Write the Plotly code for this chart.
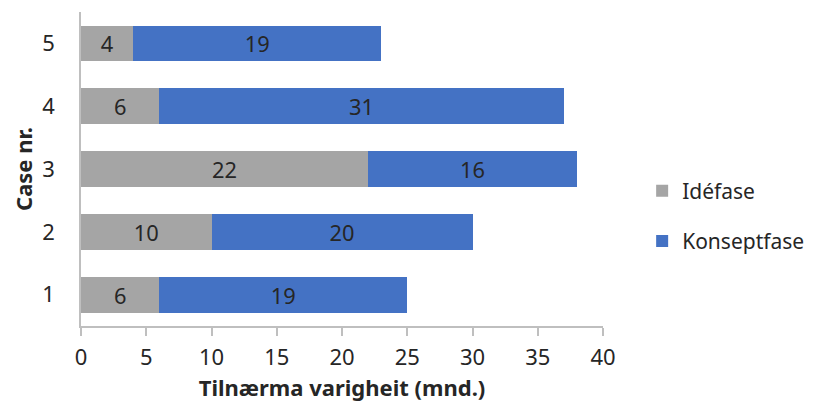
import plotly.graph_objects as go

cases = ["1", "2", "3", "4", "5"]
idefase = [6, 10, 22, 6, 4]
konseptfase = [19, 20, 16, 31, 19]
x_ticks = [0, 5, 10, 15, 20, 25, 30, 35, 40]

font_family = "Noto Sans, Open Sans, Liberation Sans, sans-serif"

fig = go.Figure()
fig.add_trace(go.Bar(
    y=cases, x=idefase, orientation="h", name="Idéfase",
    marker=dict(color="#A5A5A5", line=dict(width=0)),
    text=idefase, textposition="inside", insidetextanchor="middle", textangle=0,
    textfont=dict(size=22, color="#262626", family=font_family),
    legendgroup="a", hoverinfo="x+y",
))
fig.add_trace(go.Bar(
    y=cases, x=konseptfase, orientation="h", name="Konseptfase",
    marker=dict(color="#4472C4", line=dict(width=0)),
    text=konseptfase, textposition="inside", insidetextanchor="middle", textangle=0,
    textfont=dict(size=22, color="#262626", family=font_family),
    legendgroup="b", hoverinfo="x+y",
))

fig.update_layout(
    width=816, height=413,
    barmode="stack", bargap=0.43,
    plot_bgcolor="white", paper_bgcolor="white",
    margin=dict(l=73, r=221, t=4, b=95),
    font=dict(family=font_family, size=22, color="#262626"),
    uniformtext=dict(mode="show", minsize=10),
    legend=dict(
        x=1.075, y=0.35, xanchor="left", yanchor="middle",
        traceorder="grouped", tracegroupgap=20,
        font=dict(size=21, color="#262626"),
        bgcolor="rgba(0,0,0,0)",
    ),
    xaxis=dict(
        range=[0, 40], tickvals=x_ticks, ticktext=[str(v) for v in x_ticks],
        showgrid=False, zeroline=False,
        showline=True, linecolor="#BFBFBF", linewidth=1.5,
        ticks="outside", ticklen=8, tickcolor="#BFBFBF", tickwidth=1.5,
        tickfont=dict(size=22), ticklabelstandoff=3,
        title=dict(text="<b>Tilnærma varigheit (mnd.)</b>", font=dict(size=22), standoff=10),
    ),
    yaxis=dict(
        showgrid=False, zeroline=False,
        showline=True, linecolor="#BFBFBF", linewidth=1.5,
        ticks="", tickfont=dict(size=22), ticklabelstandoff=20,
        title=dict(text="<b>Case nr.</b>", font=dict(size=22), standoff=4),
    ),
)

fig.write_html("out.html")
